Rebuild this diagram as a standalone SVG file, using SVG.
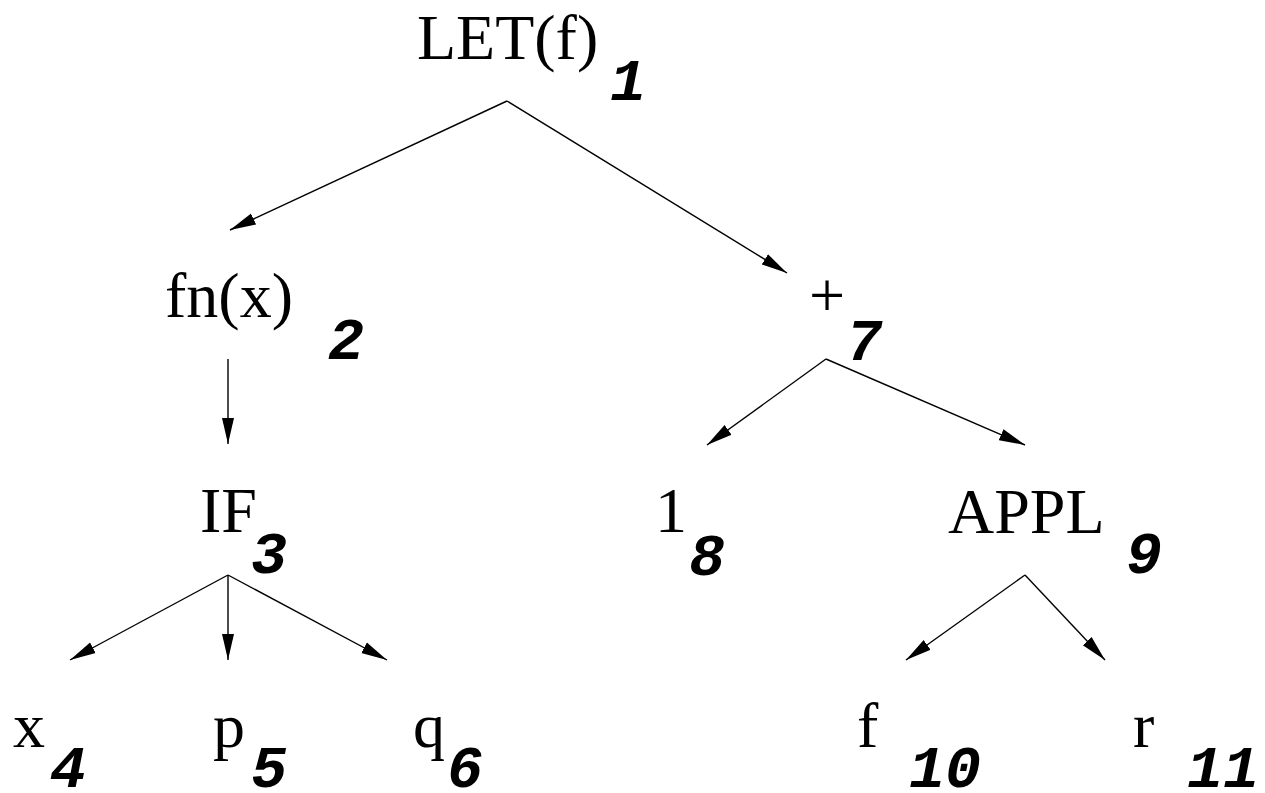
<svg xmlns="http://www.w3.org/2000/svg" width="1265" height="793" viewBox="0 0 1265 793">
<style>
.lbl{font-family:"Liberation Serif","Times New Roman",serif;font-size:64px;fill:#000}
.num{font-family:"Liberation Mono","Courier New",monospace;font-size:60px;font-weight:bold;font-style:italic;fill:#000}
.edge{stroke:#000;stroke-width:1.4;fill:none;marker-end:url(#ah)}
</style>
<defs>
<marker id="ah" markerUnits="userSpaceOnUse" markerWidth="27" markerHeight="14" refX="26" refY="7" orient="auto">
<path d="M0,1 L26,7 L0,13 z" fill="#000"/>
</marker>
</defs>
<rect width="1265" height="793" fill="#fff"/>
<g id="connectors">
<line class="edge" x1="507" y1="101" x2="230" y2="230"/>
<line class="edge" x1="507" y1="101" x2="787" y2="273"/>
<line class="edge" x1="228" y1="359" x2="228" y2="444"/>
<line class="edge" x1="228" y1="575" x2="70" y2="660"/>
<line class="edge" x1="228" y1="575" x2="228" y2="660"/>
<line class="edge" x1="228" y1="575" x2="387" y2="660"/>
<line class="edge" x1="826" y1="359" x2="707" y2="445"/>
<line class="edge" x1="826" y1="359" x2="1025" y2="445"/>
<line class="edge" x1="1025" y1="575" x2="906" y2="660"/>
<line class="edge" x1="1025" y1="575" x2="1105" y2="660"/>
</g>
<g id="n1"><text class="lbl" x="417" y="59">LET(f)</text><text class="num" x="610" y="100">1</text></g>
<g id="n2"><text class="lbl" x="165" y="317">fn(x)</text><text class="num" x="328" y="359">2</text></g>
<g id="n3"><text class="lbl" x="200" y="532">IF</text><text class="num" x="251" y="573">3</text></g>
<g id="n4"><text class="lbl" x="13" y="747">x</text><text class="num" x="50" y="787">4</text></g>
<g id="n5"><text class="lbl" x="213" y="747">p</text><text class="num" x="251" y="787">5</text></g>
<g id="n6"><text class="lbl" x="413" y="747">q</text><text class="num" x="447" y="787">6</text></g>
<g id="n7"><text class="lbl" x="809" y="317">+</text><text class="num" x="846" y="360">7</text></g>
<g id="n8"><text class="lbl" x="655" y="532">1</text><text class="num" x="689" y="575">8</text></g>
<g id="n9"><text class="lbl" x="948" y="533">APPL</text><text class="num" x="1126" y="573">9</text></g>
<g id="n10"><text class="lbl" x="857" y="747">f</text><text class="num" x="909" y="787">10</text></g>
<g id="n11"><text class="lbl" x="1133" y="747">r</text><text class="num" x="1187" y="787">11</text></g>
</svg>
